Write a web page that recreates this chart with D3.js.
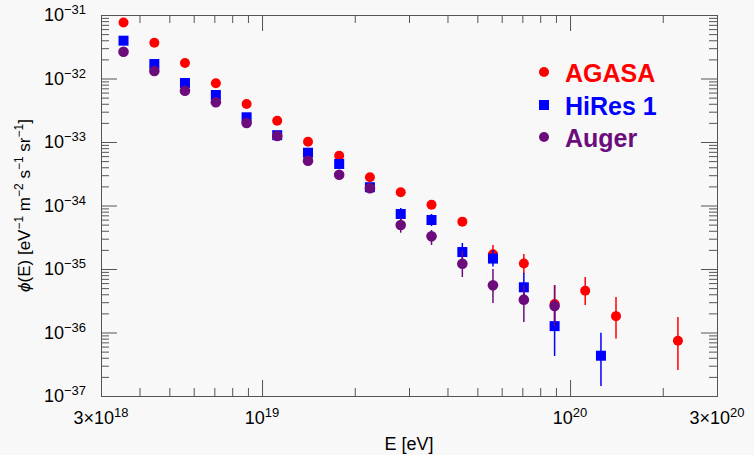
<!DOCTYPE html>
<html>
<head>
<meta charset="utf-8">
<script src="https://cdn.jsdelivr.net/npm/d3@7"></script>
<style>
  html, body { margin: 0; padding: 0; background: #f8f8f8; }
  svg { display: block; }
</style>
</head>
<body>
<div id="chart"></div>
<script>
// ---------------- data ----------------
const seriesNames = ["AGASA", "HiRes 1", "Auger"];

const agasaE   = [3.55e18, 4.47e18, 5.62e18, 7.08e18, 8.91e18, 1.12e19, 1.41e19, 1.78e19, 2.24e19, 2.82e19, 3.55e19, 4.47e19, 5.62e19, 7.08e19, 8.91e19, 1.12e20, 1.41e20, 2.24e20];
const agasaFlux = [7.6e-32, 3.66e-32, 1.75e-32, 8.4e-33, 3.96e-33, 2.16e-33, 1.01e-33, 6.08e-34, 2.78e-34, 1.62e-34, 1.03e-34, 5.57e-35, 1.71e-35, 1.22e-35, 2.81e-36, 4.55e-36, 1.81e-36, 7.43e-37];
const agasaErrHi = [null, null, null, null, null, null, null, null, null, null, null, null, 2.39e-35, 1.72e-35, 5.60e-36, 7.48e-36, 3.62e-36, 1.75e-36];
const agasaErrLo = [null, null, null, null, null, null, null, null, null, null, null, null, 1.24e-35, 8.34e-36, 1.41e-36, 2.71e-36, 8.05e-37, 2.57e-37];

const hiresE    = [3.55e18, 4.47e18, 5.62e18, 7.08e18, 8.91e18, 1.12e19, 1.41e19, 1.78e19, 2.24e19, 2.82e19, 3.55e19, 4.47e19, 5.62e19, 7.08e19, 8.91e19, 1.26e20];
const hiresFlux = [3.94e-32, 1.69e-32, 8.49e-33, 5.50e-33, 2.45e-33, 1.28e-33, 6.78e-34, 4.51e-34, 1.94e-34, 7.35e-35, 5.91e-35, 1.85e-35, 1.46e-35, 5.15e-36, 1.26e-36, 4.31e-37];
const hiresErrHi = [null, null, null, null, null, null, null, null, null, 9.14e-35, 7.35e-35, 2.57e-35, 1.99e-35, 8.65e-36, 3.25e-36, 9.93e-37];
const hiresErrLo = [null, null, null, null, null, null, null, null, null, 5.91e-35, 4.75e-35, 1.34e-35, 1.09e-35, 3.13e-36, 4.27e-37, 1.44e-37];

const augerE    = [3.55e18, 4.47e18, 5.62e18, 7.08e18, 8.91e18, 1.12e19, 1.41e19, 1.78e19, 2.24e19, 2.82e19, 3.55e19, 4.47e19, 5.62e19, 7.08e19, 8.91e19];
const augerFlux = [2.64e-32, 1.31e-32, 6.43e-33, 4.22e-33, 1.99e-33, 1.24e-33, 5.07e-34, 3.05e-34, 1.87e-34, 4.93e-35, 3.27e-35, 1.21e-35, 5.53e-36, 3.29e-36, 2.61e-36];
const augerErrHi = [null, null, null, null, null, null, null, null, null, 6.35e-35, 4.11e-35, 1.92e-35, 1.0e-35, 5.60e-36, 5.60e-36];
const augerErrLo = [null, null, null, null, null, null, null, null, null, 3.73e-35, 2.39e-35, 7.48e-36, 2.92e-36, 1.46e-36, 1.26e-36];

const xTickValues = [3e18, 1e19, 1e20, 3e20];
const xTickBase   = ["3×10", "10", "10", "3×10"];
const xTickExp    = ["18", "19", "20", "20"];
const yTickValues = [1e-37, 1e-36, 1e-35, 1e-34, 1e-33, 1e-32, 1e-31];
const yTickExp    = ["−37", "−36", "−35", "−34", "−33", "−32", "−31"];

// ---------------- layout ----------------
const W = 754, H = 455;
const mLeft = 101, mRight = 717, mTop = 15, mBottom = 396;
const colors = ["#ff0000", "#0000ff", "#6c0c7c"];
const frameColor = "#555555";

const svg = d3.select("#chart").append("svg")
  .attr("width", W).attr("height", H)
  .style("font-family", "'Liberation Sans', Arial, Helvetica, sans-serif");

svg.append("rect").attr("width", W).attr("height", H).attr("fill", "#f8f8f8");

const x = d3.scaleLog().domain([3e18, 3e20]).range([mLeft, mRight]);
const y = d3.scaleLog().domain([1e-37, 1e-31]).range([mBottom, mTop]);

// minor tick values
const xMinor = [];
for (let d = 18; d <= 20; d++) for (let m = 2; m <= 9; m++) {
  const v = m * Math.pow(10, d);
  if (v > 3e18 && v < 3e20) xMinor.push(v);
}
const xMajor = [1e19, 1e20];
const yMinor = [];
for (let d = -37; d < -31; d++) for (let m = 2; m <= 9; m++) yMinor.push(m * Math.pow(10, d));

function styleAxis(g) {
  g.select(".domain").remove();
  g.selectAll("line").attr("stroke", frameColor).attr("stroke-width", 1);
  g.selectAll("text").remove();
}

// bottom ticks (inward)
svg.append("g").attr("transform", `translate(0,${mBottom})`)
  .call(d3.axisBottom(x).tickValues(xMinor).tickSize(-8).tickFormat("")).call(styleAxis);
svg.append("g").attr("transform", `translate(0,${mBottom})`)
  .call(d3.axisBottom(x).tickValues(xMajor).tickSize(-16).tickFormat("")).call(styleAxis);
// top ticks
svg.append("g").attr("transform", `translate(0,${mTop})`)
  .call(d3.axisTop(x).tickValues(xMinor).tickSize(-8).tickFormat("")).call(styleAxis);
svg.append("g").attr("transform", `translate(0,${mTop})`)
  .call(d3.axisTop(x).tickValues(xMajor).tickSize(-16).tickFormat("")).call(styleAxis);
// left ticks
svg.append("g").attr("transform", `translate(${mLeft},0)`)
  .call(d3.axisLeft(y).tickValues(yMinor).tickSize(-8).tickFormat("")).call(styleAxis);
svg.append("g").attr("transform", `translate(${mLeft},0)`)
  .call(d3.axisLeft(y).tickValues(yTickValues).tickSize(-16).tickFormat("")).call(styleAxis);
// right ticks
svg.append("g").attr("transform", `translate(${mRight},0)`)
  .call(d3.axisRight(y).tickValues(yMinor).tickSize(-8).tickFormat("")).call(styleAxis);
svg.append("g").attr("transform", `translate(${mRight},0)`)
  .call(d3.axisRight(y).tickValues(yTickValues).tickSize(-16).tickFormat("")).call(styleAxis);

// frame
svg.append("rect")
  .attr("x", mLeft + 0.5).attr("y", mTop + 0.5)
  .attr("width", mRight - mLeft).attr("height", mBottom - mTop)
  .attr("fill", "none").attr("stroke", frameColor).attr("stroke-width", 1);

// x tick labels
xTickValues.forEach((v, i) => {
  const t = svg.append("text")
    .attr("x", x(v)).attr("y", 424)
    .attr("text-anchor", "middle")
    .attr("font-size", 18).attr("fill", "#000");
  t.append("tspan").text(xTickBase[i]);
  t.append("tspan").attr("dy", -7).attr("font-size", 13).text(xTickExp[i]);
});

// y tick labels
yTickValues.forEach((v, i) => {
  const t = svg.append("text")
    .attr("x", 86).attr("y", y(v) + 6)
    .attr("text-anchor", "end")
    .attr("font-size", 18).attr("fill", "#000");
  t.append("tspan").text("10");
  t.append("tspan").attr("dy", -7).attr("font-size", 13).text(yTickExp[i]);
});

// axis titles
svg.append("text")
  .attr("x", (mLeft + mRight) / 2).attr("y", 450)
  .attr("text-anchor", "middle").attr("font-size", 18).attr("fill", "#000")
  .text("E [eV]");

const yt = svg.append("text")
  .attr("transform", `translate(30,${(mTop + mBottom) / 2}) rotate(-90)`)
  .attr("text-anchor", "middle").attr("font-size", 17).attr("fill", "#000");
yt.append("tspan").attr("font-style", "italic").text("ϕ");
yt.append("tspan").text("(E) [eV");
yt.append("tspan").attr("dy", -7).attr("font-size", 12).text("−1");
yt.append("tspan").attr("dy", 7).text(" m");
yt.append("tspan").attr("dy", -7).attr("font-size", 12).text("−2");
yt.append("tspan").attr("dy", 7).text(" s");
yt.append("tspan").attr("dy", -7).attr("font-size", 12).text("−1");
yt.append("tspan").attr("dy", 7).text(" sr");
yt.append("tspan").attr("dy", -7).attr("font-size", 12).text("−1");
yt.append("tspan").attr("dy", 7).text("]");

// ---------------- data marks ----------------
const series = [
  { E: agasaE, f: agasaFlux, hi: agasaErrHi, lo: agasaErrLo, shape: "circle", r: 5 },
  { E: hiresE, f: hiresFlux, hi: hiresErrHi, lo: hiresErrLo, shape: "square", r: 5 },
  { E: augerE, f: augerFlux, hi: augerErrHi, lo: augerErrLo, shape: "circle", r: 5.3 }
];

const plot = svg.append("g");
series.forEach((s, si) => {
  const g = plot.append("g");
  const pts = s.E.map((e, i) => ({ e, f: s.f[i], hi: s.hi[i], lo: s.lo[i] }));
  g.selectAll("line.err").data(pts.filter(p => p.hi !== null))
    .join("line").attr("class", "err")
    .attr("x1", p => x(p.e)).attr("x2", p => x(p.e))
    .attr("y1", p => y(p.hi)).attr("y2", p => y(p.lo))
    .attr("stroke", colors[si]).attr("stroke-width", 1.5);
  if (s.shape === "circle") {
    g.selectAll("circle").data(pts).join("circle")
      .attr("cx", p => x(p.e)).attr("cy", p => y(p.f)).attr("r", s.r)
      .attr("fill", colors[si]);
  } else {
    g.selectAll("rect").data(pts).join("rect")
      .attr("x", p => x(p.e) - s.r).attr("y", p => y(p.f) - s.r)
      .attr("width", 2 * s.r).attr("height", 2 * s.r)
      .attr("fill", colors[si]);
  }
});

// ---------------- legend ----------------
const legY = [72, 105, 137];
seriesNames.forEach((name, i) => {
  if (series[i].shape === "circle") {
    svg.append("circle").attr("cx", 544).attr("cy", legY[i]).attr("r", 5).attr("fill", colors[i]);
  } else {
    svg.append("rect").attr("x", 539).attr("y", legY[i] - 5).attr("width", 10).attr("height", 10).attr("fill", colors[i]);
  }
  svg.append("text")
    .attr("x", 565).attr("y", legY[i] + 10)
    .attr("font-size", 25).attr("font-weight", "bold").attr("fill", colors[i])
    .text(name);
});
</script>
</body>
</html>
